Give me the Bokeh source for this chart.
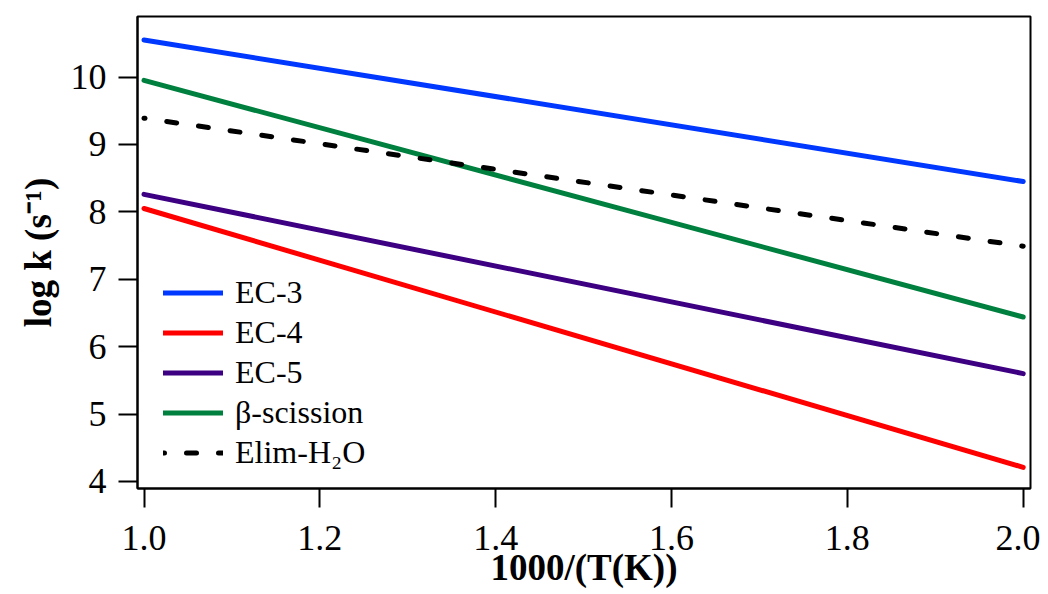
from bokeh.plotting import figure
from bokeh.models import Range1d, Legend, LegendItem, FixedTicker
from bokeh.embed import file_html
from bokeh.resources import INLINE

# Data (straight Arrhenius lines: value at 1000/T = 1.0 and 2.0)
x_vals = [1.0, 2.0]
ec3 = [10.55, 8.45]
ec4 = [8.05, 4.21]
ec5 = [8.26, 5.60]
beta = [9.95, 6.44]
elim = [9.39, 7.49]

series_names = ["EC-3", "EC-4", "EC-5", "\u03b2-scission", "Elim-H\u2082O"]
x_ticks = [1.0, 1.2, 1.4, 1.6, 1.8, 2.0]
y_ticks = [4, 5, 6, 7, 8, 9, 10]

FONT = "Liberation Serif"

p = figure(width=1040, height=594, output_backend="svg", toolbar_location=None,
           x_range=Range1d(0.9926, 2.0083), y_range=Range1d(3.896, 10.898),
           min_border_left=137, min_border_right=10, min_border_top=16, min_border_bottom=106)
p.grid.visible = False
p.outline_line_color = "black"
p.outline_line_width = 2
p.background_fill_color = "white"
p.border_fill_color = "white"

for ax in (p.xaxis[0], p.yaxis[0]):
    ax.axis_line_width = 2
    ax.major_tick_line_width = 2
    ax.major_tick_out = 19
    ax.major_tick_in = 0
    ax.minor_tick_line_color = None
    ax.major_label_text_font = FONT
    ax.major_label_text_font_size = "36px"
    ax.major_label_text_color = "black"
    ax.axis_label_text_font = FONT
    ax.axis_label_text_font_size = "37px"
    ax.axis_label_text_font_style = "bold"
    ax.axis_label_text_color = "black"

p.xaxis.ticker = FixedTicker(ticks=x_ticks)
p.yaxis.ticker = FixedTicker(ticks=y_ticks)
p.xaxis.major_label_overrides = {t: f"{t:.1f}" for t in x_ticks}
p.xaxis.axis_label = "1000/(T(K))"
p.yaxis.axis_label = "log k (s\u207b\u00b9)"
p.xaxis.major_label_standoff = 18
p.yaxis.major_label_standoff = 12
p.xaxis.axis_label_standoff = -6
p.yaxis.axis_label_standoff = 9

r1 = p.line(x_vals, ec3, line_color="#0038ff", line_width=5, line_cap="round")
r2 = p.line(x_vals, ec4, line_color="#ff0000", line_width=5, line_cap="round")
r3 = p.line(x_vals, ec5, line_color="#3d0082", line_width=5, line_cap="round")
r4 = p.line(x_vals, beta, line_color="#00803f", line_width=5, line_cap="round")
r5 = p.line(x_vals, elim, line_color="black", line_width=5, line_cap="round",
            line_dash="10 22", line_dash_offset=9)

legend = Legend(items=[LegendItem(label=n, renderers=[r]) for n, r in
                       zip(series_names, [r1, r2, r3, r4, r5])],
                location=(26, 16))
legend.background_fill_alpha = 0
legend.border_line_color = None
legend.padding = 0
legend.margin = 0
legend.spacing = 1
legend.glyph_width = 60
legend.glyph_height = 39
legend.label_height = 39
legend.label_standoff = 12
legend.label_text_font = FONT
legend.label_text_font_size = "32px"
legend.label_text_color = "black"
p.add_layout(legend, "center")

open("out.html", "w").write(file_html(p, INLINE))
